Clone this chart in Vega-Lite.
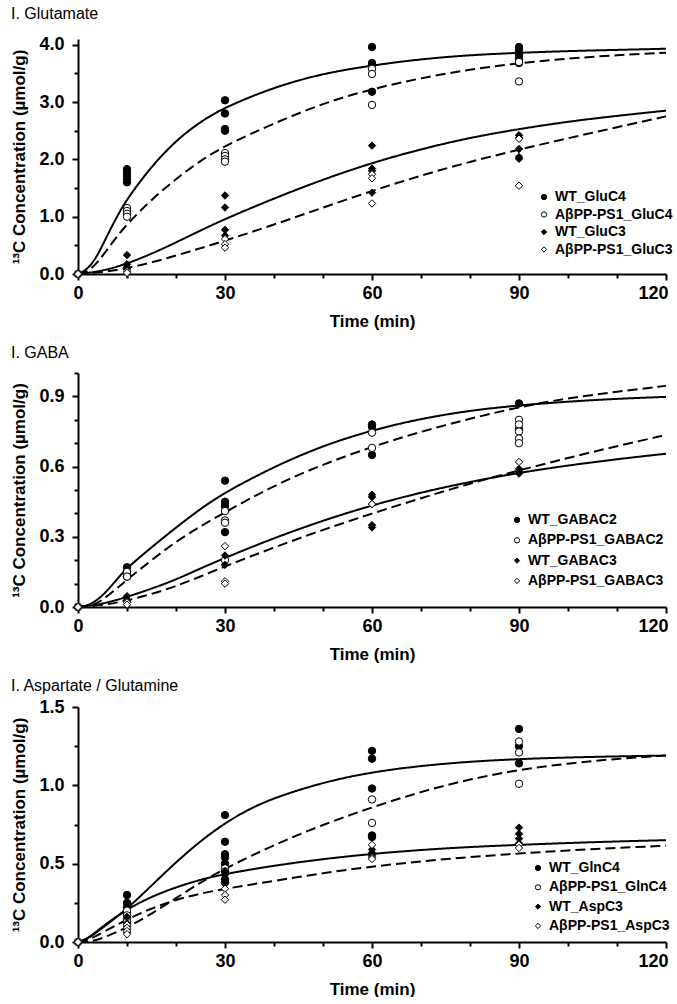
{
  "$schema": "https://vega.github.io/schema/vega-lite/v6.json",
  "padding": {"left": 10, "top": 5, "right": 0, "bottom": 0},
  "background": "white",
  "config": {
    "view": {"stroke": null},
    "font": "Liberation Sans",
    "axis": {
      "domainColor": "black", "domainWidth": 2, "tickColor": "black", "tickWidth": 2,
      "grid": false, "labelColor": "black", "titleColor": "black",
      "labelFont": "Liberation Sans", "labelFontWeight": "bold", "labelFontSize": 18,
      "titleFont": "Liberation Sans", "titleFontWeight": "bold", "titleFontSize": 17,
      "labelOverlap": false, "labelFlush": false
    },
    "legend": {
      "labelFont": "Liberation Sans", "labelFontWeight": "bold", "labelFontSize": 14, "labelColor": "black",
      "symbolStrokeWidth": 1, "symbolSize": 28, "padding": 0, "labelOffset": 4
    },
    "title": {"font": "Liberation Sans", "fontSize": 16, "fontWeight": "normal", "color": "black", "anchor": "start", "frame": "bounds"}
  },
  "datasets": {
    "pts": [
      {"panel": 1, "series": "WT_GluC4", "t": 0, "v": 0},
      {"panel": 1, "series": "WT_GluC4", "t": 10, "v": 1.83},
      {"panel": 1, "series": "WT_GluC4", "t": 10, "v": 1.77},
      {"panel": 1, "series": "WT_GluC4", "t": 10, "v": 1.71},
      {"panel": 1, "series": "WT_GluC4", "t": 10, "v": 1.65},
      {"panel": 1, "series": "WT_GluC4", "t": 10, "v": 1.6},
      {"panel": 1, "series": "WT_GluC4", "t": 30, "v": 3.03},
      {"panel": 1, "series": "WT_GluC4", "t": 30, "v": 2.8},
      {"panel": 1, "series": "WT_GluC4", "t": 30, "v": 2.53},
      {"panel": 1, "series": "WT_GluC4", "t": 30, "v": 2.5},
      {"panel": 1, "series": "WT_GluC4", "t": 60, "v": 3.96},
      {"panel": 1, "series": "WT_GluC4", "t": 60, "v": 3.68},
      {"panel": 1, "series": "WT_GluC4", "t": 60, "v": 3.65},
      {"panel": 1, "series": "WT_GluC4", "t": 60, "v": 3.18},
      {"panel": 1, "series": "WT_GluC4", "t": 90, "v": 3.96},
      {"panel": 1, "series": "WT_GluC4", "t": 90, "v": 3.9},
      {"panel": 1, "series": "WT_GluC4", "t": 90, "v": 3.83},
      {"panel": 1, "series": "WT_GluC4", "t": 90, "v": 3.76},
      {"panel": 1, "series": "WT_GluC4", "t": 90, "v": 3.68},
      {"panel": 1, "series": "AβPP-PS1_GluC4", "t": 0, "v": 0},
      {"panel": 1, "series": "AβPP-PS1_GluC4", "t": 10, "v": 1.15},
      {"panel": 1, "series": "AβPP-PS1_GluC4", "t": 10, "v": 1.1},
      {"panel": 1, "series": "AβPP-PS1_GluC4", "t": 10, "v": 1.05},
      {"panel": 1, "series": "AβPP-PS1_GluC4", "t": 10, "v": 1.0},
      {"panel": 1, "series": "AβPP-PS1_GluC4", "t": 30, "v": 2.11},
      {"panel": 1, "series": "AβPP-PS1_GluC4", "t": 30, "v": 2.06},
      {"panel": 1, "series": "AβPP-PS1_GluC4", "t": 30, "v": 2.0},
      {"panel": 1, "series": "AβPP-PS1_GluC4", "t": 30, "v": 1.96},
      {"panel": 1, "series": "AβPP-PS1_GluC4", "t": 60, "v": 3.58},
      {"panel": 1, "series": "AβPP-PS1_GluC4", "t": 60, "v": 3.49},
      {"panel": 1, "series": "AβPP-PS1_GluC4", "t": 60, "v": 2.95},
      {"panel": 1, "series": "AβPP-PS1_GluC4", "t": 90, "v": 3.7},
      {"panel": 1, "series": "AβPP-PS1_GluC4", "t": 90, "v": 3.36},
      {"panel": 1, "series": "WT_GluC3", "t": 0, "v": 0},
      {"panel": 1, "series": "WT_GluC3", "t": 10, "v": 0.33},
      {"panel": 1, "series": "WT_GluC3", "t": 10, "v": 0.17},
      {"panel": 1, "series": "WT_GluC3", "t": 10, "v": 0.12},
      {"panel": 1, "series": "WT_GluC3", "t": 10, "v": 0.09},
      {"panel": 1, "series": "WT_GluC3", "t": 30, "v": 1.37},
      {"panel": 1, "series": "WT_GluC3", "t": 30, "v": 1.16},
      {"panel": 1, "series": "WT_GluC3", "t": 30, "v": 0.77},
      {"panel": 1, "series": "WT_GluC3", "t": 30, "v": 0.67},
      {"panel": 1, "series": "WT_GluC3", "t": 60, "v": 2.24},
      {"panel": 1, "series": "WT_GluC3", "t": 60, "v": 1.84},
      {"panel": 1, "series": "WT_GluC3", "t": 60, "v": 1.8},
      {"panel": 1, "series": "WT_GluC3", "t": 60, "v": 1.42},
      {"panel": 1, "series": "WT_GluC3", "t": 90, "v": 2.42},
      {"panel": 1, "series": "WT_GluC3", "t": 90, "v": 2.38},
      {"panel": 1, "series": "WT_GluC3", "t": 90, "v": 2.18},
      {"panel": 1, "series": "WT_GluC3", "t": 90, "v": 2.04},
      {"panel": 1, "series": "WT_GluC3", "t": 90, "v": 2.01},
      {"panel": 1, "series": "AβPP-PS1_GluC3", "t": 0, "v": 0},
      {"panel": 1, "series": "AβPP-PS1_GluC3", "t": 10, "v": 0.05},
      {"panel": 1, "series": "AβPP-PS1_GluC3", "t": 10, "v": 0.02},
      {"panel": 1, "series": "AβPP-PS1_GluC3", "t": 30, "v": 0.61},
      {"panel": 1, "series": "AβPP-PS1_GluC3", "t": 30, "v": 0.52},
      {"panel": 1, "series": "AβPP-PS1_GluC3", "t": 30, "v": 0.46},
      {"panel": 1, "series": "AβPP-PS1_GluC3", "t": 60, "v": 1.74},
      {"panel": 1, "series": "AβPP-PS1_GluC3", "t": 60, "v": 1.67},
      {"panel": 1, "series": "AβPP-PS1_GluC3", "t": 60, "v": 1.23},
      {"panel": 1, "series": "AβPP-PS1_GluC3", "t": 90, "v": 2.36},
      {"panel": 1, "series": "AβPP-PS1_GluC3", "t": 90, "v": 1.54},

      {"panel": 2, "series": "WT_GABAC2", "t": 0, "v": 0},
      {"panel": 2, "series": "WT_GABAC2", "t": 10, "v": 0.17},
      {"panel": 2, "series": "WT_GABAC2", "t": 10, "v": 0.15},
      {"panel": 2, "series": "WT_GABAC2", "t": 10, "v": 0.14},
      {"panel": 2, "series": "WT_GABAC2", "t": 10, "v": 0.13},
      {"panel": 2, "series": "WT_GABAC2", "t": 30, "v": 0.54},
      {"panel": 2, "series": "WT_GABAC2", "t": 30, "v": 0.45},
      {"panel": 2, "series": "WT_GABAC2", "t": 30, "v": 0.44},
      {"panel": 2, "series": "WT_GABAC2", "t": 30, "v": 0.43},
      {"panel": 2, "series": "WT_GABAC2", "t": 30, "v": 0.32},
      {"panel": 2, "series": "WT_GABAC2", "t": 60, "v": 0.78},
      {"panel": 2, "series": "WT_GABAC2", "t": 60, "v": 0.77},
      {"panel": 2, "series": "WT_GABAC2", "t": 60, "v": 0.65},
      {"panel": 2, "series": "WT_GABAC2", "t": 90, "v": 0.87},
      {"panel": 2, "series": "WT_GABAC2", "t": 90, "v": 0.76},
      {"panel": 2, "series": "AβPP-PS1_GABAC2", "t": 0, "v": 0},
      {"panel": 2, "series": "AβPP-PS1_GABAC2", "t": 10, "v": 0.15},
      {"panel": 2, "series": "AβPP-PS1_GABAC2", "t": 10, "v": 0.13},
      {"panel": 2, "series": "AβPP-PS1_GABAC2", "t": 30, "v": 0.41},
      {"panel": 2, "series": "AβPP-PS1_GABAC2", "t": 30, "v": 0.37},
      {"panel": 2, "series": "AβPP-PS1_GABAC2", "t": 30, "v": 0.36},
      {"panel": 2, "series": "AβPP-PS1_GABAC2", "t": 30, "v": 0.2},
      {"panel": 2, "series": "AβPP-PS1_GABAC2", "t": 60, "v": 0.745},
      {"panel": 2, "series": "AβPP-PS1_GABAC2", "t": 60, "v": 0.68},
      {"panel": 2, "series": "AβPP-PS1_GABAC2", "t": 90, "v": 0.8},
      {"panel": 2, "series": "AβPP-PS1_GABAC2", "t": 90, "v": 0.78},
      {"panel": 2, "series": "AβPP-PS1_GABAC2", "t": 90, "v": 0.75},
      {"panel": 2, "series": "AβPP-PS1_GABAC2", "t": 90, "v": 0.72},
      {"panel": 2, "series": "AβPP-PS1_GABAC2", "t": 90, "v": 0.7},
      {"panel": 2, "series": "WT_GABAC3", "t": 0, "v": 0},
      {"panel": 2, "series": "WT_GABAC3", "t": 10, "v": 0.046},
      {"panel": 2, "series": "WT_GABAC3", "t": 10, "v": 0.03},
      {"panel": 2, "series": "WT_GABAC3", "t": 10, "v": 0.02},
      {"panel": 2, "series": "WT_GABAC3", "t": 30, "v": 0.22},
      {"panel": 2, "series": "WT_GABAC3", "t": 30, "v": 0.18},
      {"panel": 2, "series": "WT_GABAC3", "t": 60, "v": 0.48},
      {"panel": 2, "series": "WT_GABAC3", "t": 60, "v": 0.47},
      {"panel": 2, "series": "WT_GABAC3", "t": 60, "v": 0.44},
      {"panel": 2, "series": "WT_GABAC3", "t": 60, "v": 0.35},
      {"panel": 2, "series": "WT_GABAC3", "t": 60, "v": 0.34},
      {"panel": 2, "series": "WT_GABAC3", "t": 90, "v": 0.59},
      {"panel": 2, "series": "WT_GABAC3", "t": 90, "v": 0.58},
      {"panel": 2, "series": "WT_GABAC3", "t": 90, "v": 0.57},
      {"panel": 2, "series": "AβPP-PS1_GABAC3", "t": 0, "v": 0},
      {"panel": 2, "series": "AβPP-PS1_GABAC3", "t": 10, "v": 0.02},
      {"panel": 2, "series": "AβPP-PS1_GABAC3", "t": 10, "v": 0.01},
      {"panel": 2, "series": "AβPP-PS1_GABAC3", "t": 30, "v": 0.26},
      {"panel": 2, "series": "AβPP-PS1_GABAC3", "t": 30, "v": 0.11},
      {"panel": 2, "series": "AβPP-PS1_GABAC3", "t": 30, "v": 0.1},
      {"panel": 2, "series": "AβPP-PS1_GABAC3", "t": 60, "v": 0.44},
      {"panel": 2, "series": "AβPP-PS1_GABAC3", "t": 90, "v": 0.62},

      {"panel": 3, "series": "WT_GlnC4", "t": 0, "v": 0},
      {"panel": 3, "series": "WT_GlnC4", "t": 10, "v": 0.3},
      {"panel": 3, "series": "WT_GlnC4", "t": 10, "v": 0.25},
      {"panel": 3, "series": "WT_GlnC4", "t": 10, "v": 0.22},
      {"panel": 3, "series": "WT_GlnC4", "t": 10, "v": 0.19},
      {"panel": 3, "series": "WT_GlnC4", "t": 10, "v": 0.17},
      {"panel": 3, "series": "WT_GlnC4", "t": 30, "v": 0.81},
      {"panel": 3, "series": "WT_GlnC4", "t": 30, "v": 0.64},
      {"panel": 3, "series": "WT_GlnC4", "t": 30, "v": 0.56},
      {"panel": 3, "series": "WT_GlnC4", "t": 30, "v": 0.54},
      {"panel": 3, "series": "WT_GlnC4", "t": 30, "v": 0.5},
      {"panel": 3, "series": "WT_GlnC4", "t": 30, "v": 0.4},
      {"panel": 3, "series": "WT_GlnC4", "t": 30, "v": 0.38},
      {"panel": 3, "series": "WT_GlnC4", "t": 60, "v": 1.22},
      {"panel": 3, "series": "WT_GlnC4", "t": 60, "v": 1.17},
      {"panel": 3, "series": "WT_GlnC4", "t": 60, "v": 0.98},
      {"panel": 3, "series": "WT_GlnC4", "t": 60, "v": 0.68},
      {"panel": 3, "series": "WT_GlnC4", "t": 60, "v": 0.67},
      {"panel": 3, "series": "WT_GlnC4", "t": 90, "v": 1.36},
      {"panel": 3, "series": "WT_GlnC4", "t": 90, "v": 1.25},
      {"panel": 3, "series": "WT_GlnC4", "t": 90, "v": 1.14},
      {"panel": 3, "series": "AβPP-PS1_GlnC4", "t": 0, "v": 0},
      {"panel": 3, "series": "AβPP-PS1_GlnC4", "t": 10, "v": 0.2},
      {"panel": 3, "series": "AβPP-PS1_GlnC4", "t": 10, "v": 0.17},
      {"panel": 3, "series": "AβPP-PS1_GlnC4", "t": 10, "v": 0.15},
      {"panel": 3, "series": "AβPP-PS1_GlnC4", "t": 10, "v": 0.13},
      {"panel": 3, "series": "AβPP-PS1_GlnC4", "t": 30, "v": 0.47},
      {"panel": 3, "series": "AβPP-PS1_GlnC4", "t": 30, "v": 0.45},
      {"panel": 3, "series": "AβPP-PS1_GlnC4", "t": 60, "v": 0.91},
      {"panel": 3, "series": "AβPP-PS1_GlnC4", "t": 60, "v": 0.76},
      {"panel": 3, "series": "AβPP-PS1_GlnC4", "t": 90, "v": 1.28},
      {"panel": 3, "series": "AβPP-PS1_GlnC4", "t": 90, "v": 1.21},
      {"panel": 3, "series": "AβPP-PS1_GlnC4", "t": 90, "v": 1.01},
      {"panel": 3, "series": "WT_AspC3", "t": 0, "v": 0},
      {"panel": 3, "series": "WT_AspC3", "t": 10, "v": 0.16},
      {"panel": 3, "series": "WT_AspC3", "t": 10, "v": 0.12},
      {"panel": 3, "series": "WT_AspC3", "t": 10, "v": 0.1},
      {"panel": 3, "series": "WT_AspC3", "t": 10, "v": 0.08},
      {"panel": 3, "series": "WT_AspC3", "t": 10, "v": 0.06},
      {"panel": 3, "series": "WT_AspC3", "t": 30, "v": 0.45},
      {"panel": 3, "series": "WT_AspC3", "t": 30, "v": 0.43},
      {"panel": 3, "series": "WT_AspC3", "t": 30, "v": 0.38},
      {"panel": 3, "series": "WT_AspC3", "t": 60, "v": 0.59},
      {"panel": 3, "series": "WT_AspC3", "t": 60, "v": 0.57},
      {"panel": 3, "series": "WT_AspC3", "t": 60, "v": 0.55},
      {"panel": 3, "series": "WT_AspC3", "t": 90, "v": 0.73},
      {"panel": 3, "series": "WT_AspC3", "t": 90, "v": 0.69},
      {"panel": 3, "series": "WT_AspC3", "t": 90, "v": 0.66},
      {"panel": 3, "series": "WT_AspC3", "t": 90, "v": 0.63},
      {"panel": 3, "series": "AβPP-PS1_AspC3", "t": 0, "v": 0},
      {"panel": 3, "series": "AβPP-PS1_AspC3", "t": 10, "v": 0.11},
      {"panel": 3, "series": "AβPP-PS1_AspC3", "t": 10, "v": 0.09},
      {"panel": 3, "series": "AβPP-PS1_AspC3", "t": 10, "v": 0.07},
      {"panel": 3, "series": "AβPP-PS1_AspC3", "t": 10, "v": 0.05},
      {"panel": 3, "series": "AβPP-PS1_AspC3", "t": 30, "v": 0.34},
      {"panel": 3, "series": "AβPP-PS1_AspC3", "t": 30, "v": 0.3},
      {"panel": 3, "series": "AβPP-PS1_AspC3", "t": 30, "v": 0.27},
      {"panel": 3, "series": "AβPP-PS1_AspC3", "t": 60, "v": 0.62},
      {"panel": 3, "series": "AβPP-PS1_AspC3", "t": 60, "v": 0.54},
      {"panel": 3, "series": "AβPP-PS1_AspC3", "t": 60, "v": 0.53},
      {"panel": 3, "series": "AβPP-PS1_AspC3", "t": 90, "v": 0.62},
      {"panel": 3, "series": "AβPP-PS1_AspC3", "t": 90, "v": 0.6}
    ],
    "fits": [
      {"panel": 1, "series": "WT_GluC4", "geno": "WT", "t": 0, "v": 0},
      {"panel": 1, "series": "WT_GluC4", "geno": "WT", "t": 2, "v": 0.08},
      {"panel": 1, "series": "WT_GluC4", "geno": "WT", "t": 4, "v": 0.32},
      {"panel": 1, "series": "WT_GluC4", "geno": "WT", "t": 6, "v": 0.68},
      {"panel": 1, "series": "WT_GluC4", "geno": "WT", "t": 8, "v": 1.01},
      {"panel": 1, "series": "WT_GluC4", "geno": "WT", "t": 10, "v": 1.31},
      {"panel": 1, "series": "WT_GluC4", "geno": "WT", "t": 15, "v": 1.88},
      {"panel": 1, "series": "WT_GluC4", "geno": "WT", "t": 20, "v": 2.33},
      {"panel": 1, "series": "WT_GluC4", "geno": "WT", "t": 25, "v": 2.66},
      {"panel": 1, "series": "WT_GluC4", "geno": "WT", "t": 30, "v": 2.91},
      {"panel": 1, "series": "WT_GluC4", "geno": "WT", "t": 40, "v": 3.26},
      {"panel": 1, "series": "WT_GluC4", "geno": "WT", "t": 50, "v": 3.5},
      {"panel": 1, "series": "WT_GluC4", "geno": "WT", "t": 60, "v": 3.64},
      {"panel": 1, "series": "WT_GluC4", "geno": "WT", "t": 70, "v": 3.75},
      {"panel": 1, "series": "WT_GluC4", "geno": "WT", "t": 80, "v": 3.82},
      {"panel": 1, "series": "WT_GluC4", "geno": "WT", "t": 90, "v": 3.86},
      {"panel": 1, "series": "WT_GluC4", "geno": "WT", "t": 100, "v": 3.89},
      {"panel": 1, "series": "WT_GluC4", "geno": "WT", "t": 110, "v": 3.91},
      {"panel": 1, "series": "WT_GluC4", "geno": "WT", "t": 120, "v": 3.93},
      {"panel": 1, "series": "AβPP-PS1_GluC4", "geno": "APP", "t": 0, "v": 0},
      {"panel": 1, "series": "AβPP-PS1_GluC4", "geno": "APP", "t": 2, "v": 0.04},
      {"panel": 1, "series": "AβPP-PS1_GluC4", "geno": "APP", "t": 4, "v": 0.2},
      {"panel": 1, "series": "AβPP-PS1_GluC4", "geno": "APP", "t": 6, "v": 0.43},
      {"panel": 1, "series": "AβPP-PS1_GluC4", "geno": "APP", "t": 8, "v": 0.66},
      {"panel": 1, "series": "AβPP-PS1_GluC4", "geno": "APP", "t": 10, "v": 0.87},
      {"panel": 1, "series": "AβPP-PS1_GluC4", "geno": "APP", "t": 15, "v": 1.3},
      {"panel": 1, "series": "AβPP-PS1_GluC4", "geno": "APP", "t": 20, "v": 1.66},
      {"panel": 1, "series": "AβPP-PS1_GluC4", "geno": "APP", "t": 25, "v": 1.98},
      {"panel": 1, "series": "AβPP-PS1_GluC4", "geno": "APP", "t": 30, "v": 2.24},
      {"panel": 1, "series": "AβPP-PS1_GluC4", "geno": "APP", "t": 40, "v": 2.63},
      {"panel": 1, "series": "AβPP-PS1_GluC4", "geno": "APP", "t": 50, "v": 2.98},
      {"panel": 1, "series": "AβPP-PS1_GluC4", "geno": "APP", "t": 60, "v": 3.23},
      {"panel": 1, "series": "AβPP-PS1_GluC4", "geno": "APP", "t": 70, "v": 3.42},
      {"panel": 1, "series": "AβPP-PS1_GluC4", "geno": "APP", "t": 80, "v": 3.57},
      {"panel": 1, "series": "AβPP-PS1_GluC4", "geno": "APP", "t": 90, "v": 3.68},
      {"panel": 1, "series": "AβPP-PS1_GluC4", "geno": "APP", "t": 100, "v": 3.76},
      {"panel": 1, "series": "AβPP-PS1_GluC4", "geno": "APP", "t": 110, "v": 3.82},
      {"panel": 1, "series": "AβPP-PS1_GluC4", "geno": "APP", "t": 120, "v": 3.86},
      {"panel": 1, "series": "WT_GluC3", "geno": "WT", "t": 0, "v": 0},
      {"panel": 1, "series": "WT_GluC3", "geno": "WT", "t": 5, "v": 0.05},
      {"panel": 1, "series": "WT_GluC3", "geno": "WT", "t": 10, "v": 0.18},
      {"panel": 1, "series": "WT_GluC3", "geno": "WT", "t": 15, "v": 0.35},
      {"panel": 1, "series": "WT_GluC3", "geno": "WT", "t": 20, "v": 0.55},
      {"panel": 1, "series": "WT_GluC3", "geno": "WT", "t": 25, "v": 0.76},
      {"panel": 1, "series": "WT_GluC3", "geno": "WT", "t": 30, "v": 0.96},
      {"panel": 1, "series": "WT_GluC3", "geno": "WT", "t": 40, "v": 1.32},
      {"panel": 1, "series": "WT_GluC3", "geno": "WT", "t": 50, "v": 1.65},
      {"panel": 1, "series": "WT_GluC3", "geno": "WT", "t": 60, "v": 1.94},
      {"panel": 1, "series": "WT_GluC3", "geno": "WT", "t": 70, "v": 2.18},
      {"panel": 1, "series": "WT_GluC3", "geno": "WT", "t": 80, "v": 2.38},
      {"panel": 1, "series": "WT_GluC3", "geno": "WT", "t": 90, "v": 2.53},
      {"panel": 1, "series": "WT_GluC3", "geno": "WT", "t": 100, "v": 2.66},
      {"panel": 1, "series": "WT_GluC3", "geno": "WT", "t": 110, "v": 2.76},
      {"panel": 1, "series": "WT_GluC3", "geno": "WT", "t": 120, "v": 2.85},
      {"panel": 1, "series": "AβPP-PS1_GluC3", "geno": "APP", "t": 0, "v": 0},
      {"panel": 1, "series": "AβPP-PS1_GluC3", "geno": "APP", "t": 5, "v": 0.03},
      {"panel": 1, "series": "AβPP-PS1_GluC3", "geno": "APP", "t": 10, "v": 0.1},
      {"panel": 1, "series": "AβPP-PS1_GluC3", "geno": "APP", "t": 15, "v": 0.2},
      {"panel": 1, "series": "AβPP-PS1_GluC3", "geno": "APP", "t": 20, "v": 0.32},
      {"panel": 1, "series": "AβPP-PS1_GluC3", "geno": "APP", "t": 25, "v": 0.45},
      {"panel": 1, "series": "AβPP-PS1_GluC3", "geno": "APP", "t": 30, "v": 0.58},
      {"panel": 1, "series": "AβPP-PS1_GluC3", "geno": "APP", "t": 40, "v": 0.86},
      {"panel": 1, "series": "AβPP-PS1_GluC3", "geno": "APP", "t": 50, "v": 1.16},
      {"panel": 1, "series": "AβPP-PS1_GluC3", "geno": "APP", "t": 60, "v": 1.45},
      {"panel": 1, "series": "AβPP-PS1_GluC3", "geno": "APP", "t": 70, "v": 1.72},
      {"panel": 1, "series": "AβPP-PS1_GluC3", "geno": "APP", "t": 80, "v": 1.96},
      {"panel": 1, "series": "AβPP-PS1_GluC3", "geno": "APP", "t": 90, "v": 2.17},
      {"panel": 1, "series": "AβPP-PS1_GluC3", "geno": "APP", "t": 100, "v": 2.37},
      {"panel": 1, "series": "AβPP-PS1_GluC3", "geno": "APP", "t": 110, "v": 2.56},
      {"panel": 1, "series": "AβPP-PS1_GluC3", "geno": "APP", "t": 120, "v": 2.75},

      {"panel": 2, "series": "WT_GABAC2", "geno": "WT", "t": 0, "v": 0},
      {"panel": 2, "series": "WT_GABAC2", "geno": "WT", "t": 2, "v": 0.005},
      {"panel": 2, "series": "WT_GABAC2", "geno": "WT", "t": 4, "v": 0.03},
      {"panel": 2, "series": "WT_GABAC2", "geno": "WT", "t": 6, "v": 0.07},
      {"panel": 2, "series": "WT_GABAC2", "geno": "WT", "t": 8, "v": 0.12},
      {"panel": 2, "series": "WT_GABAC2", "geno": "WT", "t": 10, "v": 0.167},
      {"panel": 2, "series": "WT_GABAC2", "geno": "WT", "t": 15, "v": 0.255},
      {"panel": 2, "series": "WT_GABAC2", "geno": "WT", "t": 20, "v": 0.34},
      {"panel": 2, "series": "WT_GABAC2", "geno": "WT", "t": 25, "v": 0.42},
      {"panel": 2, "series": "WT_GABAC2", "geno": "WT", "t": 30, "v": 0.49},
      {"panel": 2, "series": "WT_GABAC2", "geno": "WT", "t": 40, "v": 0.6},
      {"panel": 2, "series": "WT_GABAC2", "geno": "WT", "t": 50, "v": 0.69},
      {"panel": 2, "series": "WT_GABAC2", "geno": "WT", "t": 60, "v": 0.756},
      {"panel": 2, "series": "WT_GABAC2", "geno": "WT", "t": 70, "v": 0.805},
      {"panel": 2, "series": "WT_GABAC2", "geno": "WT", "t": 80, "v": 0.84},
      {"panel": 2, "series": "WT_GABAC2", "geno": "WT", "t": 90, "v": 0.862},
      {"panel": 2, "series": "WT_GABAC2", "geno": "WT", "t": 100, "v": 0.878},
      {"panel": 2, "series": "WT_GABAC2", "geno": "WT", "t": 110, "v": 0.89},
      {"panel": 2, "series": "WT_GABAC2", "geno": "WT", "t": 120, "v": 0.898},
      {"panel": 2, "series": "AβPP-PS1_GABAC2", "geno": "APP", "t": 0, "v": 0},
      {"panel": 2, "series": "AβPP-PS1_GABAC2", "geno": "APP", "t": 3, "v": 0.005},
      {"panel": 2, "series": "AβPP-PS1_GABAC2", "geno": "APP", "t": 5, "v": 0.03},
      {"panel": 2, "series": "AβPP-PS1_GABAC2", "geno": "APP", "t": 8, "v": 0.08},
      {"panel": 2, "series": "AβPP-PS1_GABAC2", "geno": "APP", "t": 10, "v": 0.117},
      {"panel": 2, "series": "AβPP-PS1_GABAC2", "geno": "APP", "t": 15, "v": 0.2},
      {"panel": 2, "series": "AβPP-PS1_GABAC2", "geno": "APP", "t": 20, "v": 0.28},
      {"panel": 2, "series": "AβPP-PS1_GABAC2", "geno": "APP", "t": 25, "v": 0.345},
      {"panel": 2, "series": "AβPP-PS1_GABAC2", "geno": "APP", "t": 30, "v": 0.405},
      {"panel": 2, "series": "AβPP-PS1_GABAC2", "geno": "APP", "t": 40, "v": 0.52},
      {"panel": 2, "series": "AβPP-PS1_GABAC2", "geno": "APP", "t": 50, "v": 0.61},
      {"panel": 2, "series": "AβPP-PS1_GABAC2", "geno": "APP", "t": 60, "v": 0.685},
      {"panel": 2, "series": "AβPP-PS1_GABAC2", "geno": "APP", "t": 70, "v": 0.75},
      {"panel": 2, "series": "AβPP-PS1_GABAC2", "geno": "APP", "t": 80, "v": 0.805},
      {"panel": 2, "series": "AβPP-PS1_GABAC2", "geno": "APP", "t": 90, "v": 0.855},
      {"panel": 2, "series": "AβPP-PS1_GABAC2", "geno": "APP", "t": 100, "v": 0.893},
      {"panel": 2, "series": "AβPP-PS1_GABAC2", "geno": "APP", "t": 110, "v": 0.92},
      {"panel": 2, "series": "AβPP-PS1_GABAC2", "geno": "APP", "t": 120, "v": 0.945},
      {"panel": 2, "series": "WT_GABAC3", "geno": "WT", "t": 0, "v": 0},
      {"panel": 2, "series": "WT_GABAC3", "geno": "WT", "t": 5, "v": 0.012},
      {"panel": 2, "series": "WT_GABAC3", "geno": "WT", "t": 10, "v": 0.043},
      {"panel": 2, "series": "WT_GABAC3", "geno": "WT", "t": 15, "v": 0.078},
      {"panel": 2, "series": "WT_GABAC3", "geno": "WT", "t": 20, "v": 0.117},
      {"panel": 2, "series": "WT_GABAC3", "geno": "WT", "t": 25, "v": 0.165},
      {"panel": 2, "series": "WT_GABAC3", "geno": "WT", "t": 30, "v": 0.21},
      {"panel": 2, "series": "WT_GABAC3", "geno": "WT", "t": 40, "v": 0.295},
      {"panel": 2, "series": "WT_GABAC3", "geno": "WT", "t": 50, "v": 0.37},
      {"panel": 2, "series": "WT_GABAC3", "geno": "WT", "t": 60, "v": 0.435},
      {"panel": 2, "series": "WT_GABAC3", "geno": "WT", "t": 70, "v": 0.49},
      {"panel": 2, "series": "WT_GABAC3", "geno": "WT", "t": 80, "v": 0.535},
      {"panel": 2, "series": "WT_GABAC3", "geno": "WT", "t": 90, "v": 0.574},
      {"panel": 2, "series": "WT_GABAC3", "geno": "WT", "t": 100, "v": 0.605},
      {"panel": 2, "series": "WT_GABAC3", "geno": "WT", "t": 110, "v": 0.632},
      {"panel": 2, "series": "WT_GABAC3", "geno": "WT", "t": 120, "v": 0.655},
      {"panel": 2, "series": "AβPP-PS1_GABAC3", "geno": "APP", "t": 0, "v": 0},
      {"panel": 2, "series": "AβPP-PS1_GABAC3", "geno": "APP", "t": 5, "v": 0.007},
      {"panel": 2, "series": "AβPP-PS1_GABAC3", "geno": "APP", "t": 10, "v": 0.027},
      {"panel": 2, "series": "AβPP-PS1_GABAC3", "geno": "APP", "t": 15, "v": 0.055},
      {"panel": 2, "series": "AβPP-PS1_GABAC3", "geno": "APP", "t": 20, "v": 0.089},
      {"panel": 2, "series": "AβPP-PS1_GABAC3", "geno": "APP", "t": 25, "v": 0.13},
      {"panel": 2, "series": "AβPP-PS1_GABAC3", "geno": "APP", "t": 30, "v": 0.174},
      {"panel": 2, "series": "AβPP-PS1_GABAC3", "geno": "APP", "t": 40, "v": 0.255},
      {"panel": 2, "series": "AβPP-PS1_GABAC3", "geno": "APP", "t": 50, "v": 0.33},
      {"panel": 2, "series": "AβPP-PS1_GABAC3", "geno": "APP", "t": 60, "v": 0.4},
      {"panel": 2, "series": "AβPP-PS1_GABAC3", "geno": "APP", "t": 70, "v": 0.465},
      {"panel": 2, "series": "AβPP-PS1_GABAC3", "geno": "APP", "t": 80, "v": 0.528},
      {"panel": 2, "series": "AβPP-PS1_GABAC3", "geno": "APP", "t": 90, "v": 0.584},
      {"panel": 2, "series": "AβPP-PS1_GABAC3", "geno": "APP", "t": 100, "v": 0.637},
      {"panel": 2, "series": "AβPP-PS1_GABAC3", "geno": "APP", "t": 110, "v": 0.688},
      {"panel": 2, "series": "AβPP-PS1_GABAC3", "geno": "APP", "t": 120, "v": 0.735},

      {"panel": 3, "series": "WT_GlnC4", "geno": "WT", "t": 0, "v": 0},
      {"panel": 3, "series": "WT_GlnC4", "geno": "WT", "t": 2, "v": 0.02},
      {"panel": 3, "series": "WT_GlnC4", "geno": "WT", "t": 5, "v": 0.09},
      {"panel": 3, "series": "WT_GlnC4", "geno": "WT", "t": 10, "v": 0.21},
      {"panel": 3, "series": "WT_GlnC4", "geno": "WT", "t": 15, "v": 0.36},
      {"panel": 3, "series": "WT_GlnC4", "geno": "WT", "t": 20, "v": 0.51},
      {"panel": 3, "series": "WT_GlnC4", "geno": "WT", "t": 25, "v": 0.645},
      {"panel": 3, "series": "WT_GlnC4", "geno": "WT", "t": 30, "v": 0.76},
      {"panel": 3, "series": "WT_GlnC4", "geno": "WT", "t": 35, "v": 0.85},
      {"panel": 3, "series": "WT_GlnC4", "geno": "WT", "t": 40, "v": 0.92},
      {"panel": 3, "series": "WT_GlnC4", "geno": "WT", "t": 50, "v": 1.02},
      {"panel": 3, "series": "WT_GlnC4", "geno": "WT", "t": 60, "v": 1.085},
      {"panel": 3, "series": "WT_GlnC4", "geno": "WT", "t": 70, "v": 1.125},
      {"panel": 3, "series": "WT_GlnC4", "geno": "WT", "t": 80, "v": 1.152},
      {"panel": 3, "series": "WT_GlnC4", "geno": "WT", "t": 90, "v": 1.168},
      {"panel": 3, "series": "WT_GlnC4", "geno": "WT", "t": 100, "v": 1.178},
      {"panel": 3, "series": "WT_GlnC4", "geno": "WT", "t": 110, "v": 1.185},
      {"panel": 3, "series": "WT_GlnC4", "geno": "WT", "t": 120, "v": 1.19},
      {"panel": 3, "series": "AβPP-PS1_GlnC4", "geno": "APP", "t": 0, "v": 0},
      {"panel": 3, "series": "AβPP-PS1_GlnC4", "geno": "APP", "t": 3, "v": 0.005},
      {"panel": 3, "series": "AβPP-PS1_GlnC4", "geno": "APP", "t": 5, "v": 0.025},
      {"panel": 3, "series": "AβPP-PS1_GlnC4", "geno": "APP", "t": 10, "v": 0.09},
      {"panel": 3, "series": "AβPP-PS1_GlnC4", "geno": "APP", "t": 15, "v": 0.18},
      {"panel": 3, "series": "AβPP-PS1_GlnC4", "geno": "APP", "t": 20, "v": 0.28},
      {"panel": 3, "series": "AβPP-PS1_GlnC4", "geno": "APP", "t": 25, "v": 0.38},
      {"panel": 3, "series": "AβPP-PS1_GlnC4", "geno": "APP", "t": 30, "v": 0.47},
      {"panel": 3, "series": "AβPP-PS1_GlnC4", "geno": "APP", "t": 40, "v": 0.62},
      {"panel": 3, "series": "AβPP-PS1_GlnC4", "geno": "APP", "t": 50, "v": 0.75},
      {"panel": 3, "series": "AβPP-PS1_GlnC4", "geno": "APP", "t": 60, "v": 0.86},
      {"panel": 3, "series": "AβPP-PS1_GlnC4", "geno": "APP", "t": 70, "v": 0.96},
      {"panel": 3, "series": "AβPP-PS1_GlnC4", "geno": "APP", "t": 80, "v": 1.04},
      {"panel": 3, "series": "AβPP-PS1_GlnC4", "geno": "APP", "t": 90, "v": 1.1},
      {"panel": 3, "series": "AβPP-PS1_GlnC4", "geno": "APP", "t": 100, "v": 1.14},
      {"panel": 3, "series": "AβPP-PS1_GlnC4", "geno": "APP", "t": 110, "v": 1.17},
      {"panel": 3, "series": "AβPP-PS1_GlnC4", "geno": "APP", "t": 120, "v": 1.19},
      {"panel": 3, "series": "WT_AspC3", "geno": "WT", "t": 0, "v": 0},
      {"panel": 3, "series": "WT_AspC3", "geno": "WT", "t": 2, "v": 0.02},
      {"panel": 3, "series": "WT_AspC3", "geno": "WT", "t": 5, "v": 0.1},
      {"panel": 3, "series": "WT_AspC3", "geno": "WT", "t": 10, "v": 0.21},
      {"panel": 3, "series": "WT_AspC3", "geno": "WT", "t": 15, "v": 0.29},
      {"panel": 3, "series": "WT_AspC3", "geno": "WT", "t": 20, "v": 0.35},
      {"panel": 3, "series": "WT_AspC3", "geno": "WT", "t": 25, "v": 0.398},
      {"panel": 3, "series": "WT_AspC3", "geno": "WT", "t": 30, "v": 0.435},
      {"panel": 3, "series": "WT_AspC3", "geno": "WT", "t": 40, "v": 0.488},
      {"panel": 3, "series": "WT_AspC3", "geno": "WT", "t": 50, "v": 0.53},
      {"panel": 3, "series": "WT_AspC3", "geno": "WT", "t": 60, "v": 0.563},
      {"panel": 3, "series": "WT_AspC3", "geno": "WT", "t": 70, "v": 0.588},
      {"panel": 3, "series": "WT_AspC3", "geno": "WT", "t": 80, "v": 0.607},
      {"panel": 3, "series": "WT_AspC3", "geno": "WT", "t": 90, "v": 0.62},
      {"panel": 3, "series": "WT_AspC3", "geno": "WT", "t": 100, "v": 0.632},
      {"panel": 3, "series": "WT_AspC3", "geno": "WT", "t": 110, "v": 0.642},
      {"panel": 3, "series": "WT_AspC3", "geno": "WT", "t": 120, "v": 0.65},
      {"panel": 3, "series": "AβPP-PS1_AspC3", "geno": "APP", "t": 0, "v": 0},
      {"panel": 3, "series": "AβPP-PS1_AspC3", "geno": "APP", "t": 2, "v": 0.01},
      {"panel": 3, "series": "AβPP-PS1_AspC3", "geno": "APP", "t": 5, "v": 0.06},
      {"panel": 3, "series": "AβPP-PS1_AspC3", "geno": "APP", "t": 10, "v": 0.145},
      {"panel": 3, "series": "AβPP-PS1_AspC3", "geno": "APP", "t": 15, "v": 0.215},
      {"panel": 3, "series": "AβPP-PS1_AspC3", "geno": "APP", "t": 20, "v": 0.27},
      {"panel": 3, "series": "AβPP-PS1_AspC3", "geno": "APP", "t": 25, "v": 0.31},
      {"panel": 3, "series": "AβPP-PS1_AspC3", "geno": "APP", "t": 30, "v": 0.34},
      {"panel": 3, "series": "AβPP-PS1_AspC3", "geno": "APP", "t": 40, "v": 0.39},
      {"panel": 3, "series": "AβPP-PS1_AspC3", "geno": "APP", "t": 50, "v": 0.44},
      {"panel": 3, "series": "AβPP-PS1_AspC3", "geno": "APP", "t": 60, "v": 0.482},
      {"panel": 3, "series": "AβPP-PS1_AspC3", "geno": "APP", "t": 70, "v": 0.515},
      {"panel": 3, "series": "AβPP-PS1_AspC3", "geno": "APP", "t": 80, "v": 0.543},
      {"panel": 3, "series": "AβPP-PS1_AspC3", "geno": "APP", "t": 90, "v": 0.565},
      {"panel": 3, "series": "AβPP-PS1_AspC3", "geno": "APP", "t": 100, "v": 0.585},
      {"panel": 3, "series": "AβPP-PS1_AspC3", "geno": "APP", "t": 110, "v": 0.6},
      {"panel": 3, "series": "AβPP-PS1_AspC3", "geno": "APP", "t": 120, "v": 0.615}
    ]
  },
  "spacing": 16,
  "resolve": {
    "scale": {"x": "independent", "y": "independent", "shape": "independent", "fill": "independent", "stroke": "independent", "strokeDash": "independent"},
    "legend": {"shape": "independent", "fill": "independent", "stroke": "independent"}
  },
  "vconcat": [
    {
      "title": {"text": "I. Glutamate", "offset": 14},
      "width": 588, "height": 235,
      "encoding": {
        "x": {"field": "t", "type": "quantitative", "scale": {"domain": [0, 120], "nice": false},
          "axis": {"title": "Time (min)", "values": [0,10,20,30,40,50,60,70,80,90,100,110,120],
            "labelExpr": "datum.value % 30 == 0 ? datum.label : ''",
            "tickSize": {"condition": {"test": "datum.value % 30 == 0", "value": 6}, "value": 4},
            "labelOffset": {"condition": {"test": "datum.value == 120", "value": -13}, "value": 0},
            "labelPadding": 4, "titlePadding": 11}},
        "y": {"field": "v", "type": "quantitative", "scale": {"domain": [0, 4.1], "nice": false},
          "axis": {"title": "¹³C Concentration (µmol/g)", "values": [0,0.5,1,1.5,2,2.5,3,3.5,4],
            "labelExpr": "datum.value % 1 == 0 ? format(datum.value, '.1f') : ''",
            "tickSize": {"condition": {"test": "datum.value % 1 == 0", "value": 6}, "value": 4},
            "labelPadding": 8, "titlePadding": 10}}
      },
      "layer": [
        {
          "data": {"name": "fits"},
          "transform": [{"filter": "datum.panel == 1"}],
          "mark": {"type": "line", "color": "black", "strokeWidth": 2, "interpolate": "basis"},
          "encoding": {
            "detail": {"field": "series"},
            "strokeDash": {"field": "geno", "type": "nominal", "scale": {"domain": ["WT", "APP"], "range": [[1, 0], [10, 5]]}, "legend": null}
          }
        },
        {
          "data": {"name": "pts"},
          "transform": [{"filter": "datum.panel == 1"}],
          "mark": {"type": "point", "filled": true, "strokeWidth": 1, "size": 55, "opacity": 1},
          "encoding": {
            "shape": {"field": "series", "type": "nominal", "scale": {"domain": ["WT_GluC4", "AβPP-PS1_GluC4", "WT_GluC3", "AβPP-PS1_GluC3"], "range": ["circle", "circle", "diamond", "diamond"]},
              "legend": {"title": null, "orient": "none", "legendX": 459, "legendY": 151, "rowPadding": 3.5}},
            "fill": {"field": "series", "type": "nominal", "scale": {"domain": ["WT_GluC4", "AβPP-PS1_GluC4", "WT_GluC3", "AβPP-PS1_GluC3"], "range": ["black", "white", "black", "white"]},
              "legend": {"title": null, "orient": "none", "legendX": 459, "legendY": 151, "rowPadding": 3.5}},
            "stroke": {"field": "series", "type": "nominal", "scale": {"domain": ["WT_GluC4", "AβPP-PS1_GluC4", "WT_GluC3", "AβPP-PS1_GluC3"], "range": ["black", "black", "black", "black"]},
              "legend": {"title": null, "orient": "none", "legendX": 459, "legendY": 151, "rowPadding": 3.5}}
          }
        }
      ]
    },
    {
      "title": {"text": "I. GABA", "offset": 3},
      "width": 588, "height": 234,
      "encoding": {
        "x": {"field": "t", "type": "quantitative", "scale": {"domain": [0, 120], "nice": false},
          "axis": {"title": "Time (min)", "values": [0,10,20,30,40,50,60,70,80,90,100,110,120],
            "labelExpr": "datum.value % 30 == 0 ? datum.label : ''",
            "tickSize": {"condition": {"test": "datum.value % 30 == 0", "value": 6}, "value": 4},
            "labelOffset": {"condition": {"test": "datum.value == 120", "value": -13}, "value": 0},
            "labelPadding": 4, "titlePadding": 11}},
        "y": {"field": "v", "type": "quantitative", "scale": {"domain": [0, 1], "nice": false},
          "axis": {"title": "¹³C Concentration (µmol/g)", "values": [0,0.1,0.2,0.3,0.4,0.5,0.6,0.7,0.8,0.9,1],
            "labelExpr": "indexof([0,0.3,0.6,0.9], datum.value) >= 0 ? format(datum.value, '.1f') : ''",
            "tickSize": {"condition": {"test": "indexof([0,0.3,0.6,0.9], datum.value) >= 0", "value": 6}, "value": 4},
            "labelPadding": 8, "titlePadding": 10}}
      },
      "layer": [
        {
          "data": {"name": "fits"},
          "transform": [{"filter": "datum.panel == 2"}],
          "mark": {"type": "line", "color": "black", "strokeWidth": 2, "interpolate": "basis"},
          "encoding": {
            "detail": {"field": "series"},
            "strokeDash": {"field": "geno", "type": "nominal", "scale": {"domain": ["WT", "APP"], "range": [[1, 0], [10, 5]]}, "legend": null}
          }
        },
        {
          "data": {"name": "pts"},
          "transform": [{"filter": "datum.panel == 2"}],
          "mark": {"type": "point", "filled": true, "strokeWidth": 1, "size": 55, "opacity": 1},
          "encoding": {
            "shape": {"field": "series", "type": "nominal", "scale": {"domain": ["WT_GABAC2", "AβPP-PS1_GABAC2", "WT_GABAC3", "AβPP-PS1_GABAC3"], "range": ["circle", "circle", "diamond", "diamond"]},
              "legend": {"title": null, "orient": "none", "legendX": 432, "legendY": 140, "rowPadding": 6.3}},
            "fill": {"field": "series", "type": "nominal", "scale": {"domain": ["WT_GABAC2", "AβPP-PS1_GABAC2", "WT_GABAC3", "AβPP-PS1_GABAC3"], "range": ["black", "white", "black", "white"]},
              "legend": {"title": null, "orient": "none", "legendX": 432, "legendY": 140, "rowPadding": 6.3}},
            "stroke": {"field": "series", "type": "nominal", "scale": {"domain": ["WT_GABAC2", "AβPP-PS1_GABAC2", "WT_GABAC3", "AβPP-PS1_GABAC3"], "range": ["black", "black", "black", "black"]},
              "legend": {"title": null, "orient": "none", "legendX": 432, "legendY": 140, "rowPadding": 6.3}}
          }
        }
      ]
    },
    {
      "title": {"text": "I. Aspartate / Glutamine", "offset": 4},
      "width": 588, "height": 235,
      "encoding": {
        "x": {"field": "t", "type": "quantitative", "scale": {"domain": [0, 120], "nice": false},
          "axis": {"title": "Time (min)", "values": [0,10,20,30,40,50,60,70,80,90,100,110,120],
            "labelExpr": "datum.value % 30 == 0 ? datum.label : ''",
            "tickSize": {"condition": {"test": "datum.value % 30 == 0", "value": 6}, "value": 4},
            "labelOffset": {"condition": {"test": "datum.value == 120", "value": -13}, "value": 0},
            "labelPadding": 4, "titlePadding": 11}},
        "y": {"field": "v", "type": "quantitative", "scale": {"domain": [0, 1.5], "nice": false},
          "axis": {"title": "¹³C Concentration (µmol/g)", "values": [0,0.25,0.5,0.75,1,1.25,1.5],
            "labelExpr": "datum.value % 0.5 == 0 ? format(datum.value, '.1f') : ''",
            "tickSize": {"condition": {"test": "datum.value % 0.5 == 0", "value": 6}, "value": 4},
            "labelPadding": 8, "titlePadding": 10}}
      },
      "layer": [
        {
          "data": {"name": "fits"},
          "transform": [{"filter": "datum.panel == 3"}],
          "mark": {"type": "line", "color": "black", "strokeWidth": 2, "interpolate": "basis"},
          "encoding": {
            "detail": {"field": "series"},
            "strokeDash": {"field": "geno", "type": "nominal", "scale": {"domain": ["WT", "APP"], "range": [[1, 0], [10, 5]]}, "legend": null}
          }
        },
        {
          "data": {"name": "pts"},
          "transform": [{"filter": "datum.panel == 3"}],
          "mark": {"type": "point", "filled": true, "strokeWidth": 1, "size": 55, "opacity": 1},
          "encoding": {
            "shape": {"field": "series", "type": "nominal", "scale": {"domain": ["WT_GlnC4", "AβPP-PS1_GlnC4", "WT_AspC3", "AβPP-PS1_AspC3"], "range": ["circle", "circle", "diamond", "diamond"]},
              "legend": {"title": null, "orient": "none", "legendX": 453, "legendY": 154, "rowPadding": 5.3}},
            "fill": {"field": "series", "type": "nominal", "scale": {"domain": ["WT_GlnC4", "AβPP-PS1_GlnC4", "WT_AspC3", "AβPP-PS1_AspC3"], "range": ["black", "white", "black", "white"]},
              "legend": {"title": null, "orient": "none", "legendX": 453, "legendY": 154, "rowPadding": 5.3}},
            "stroke": {"field": "series", "type": "nominal", "scale": {"domain": ["WT_GlnC4", "AβPP-PS1_GlnC4", "WT_AspC3", "AβPP-PS1_AspC3"], "range": ["black", "black", "black", "black"]},
              "legend": {"title": null, "orient": "none", "legendX": 453, "legendY": 154, "rowPadding": 5.3}}
          }
        }
      ]
    }
  ]
}
